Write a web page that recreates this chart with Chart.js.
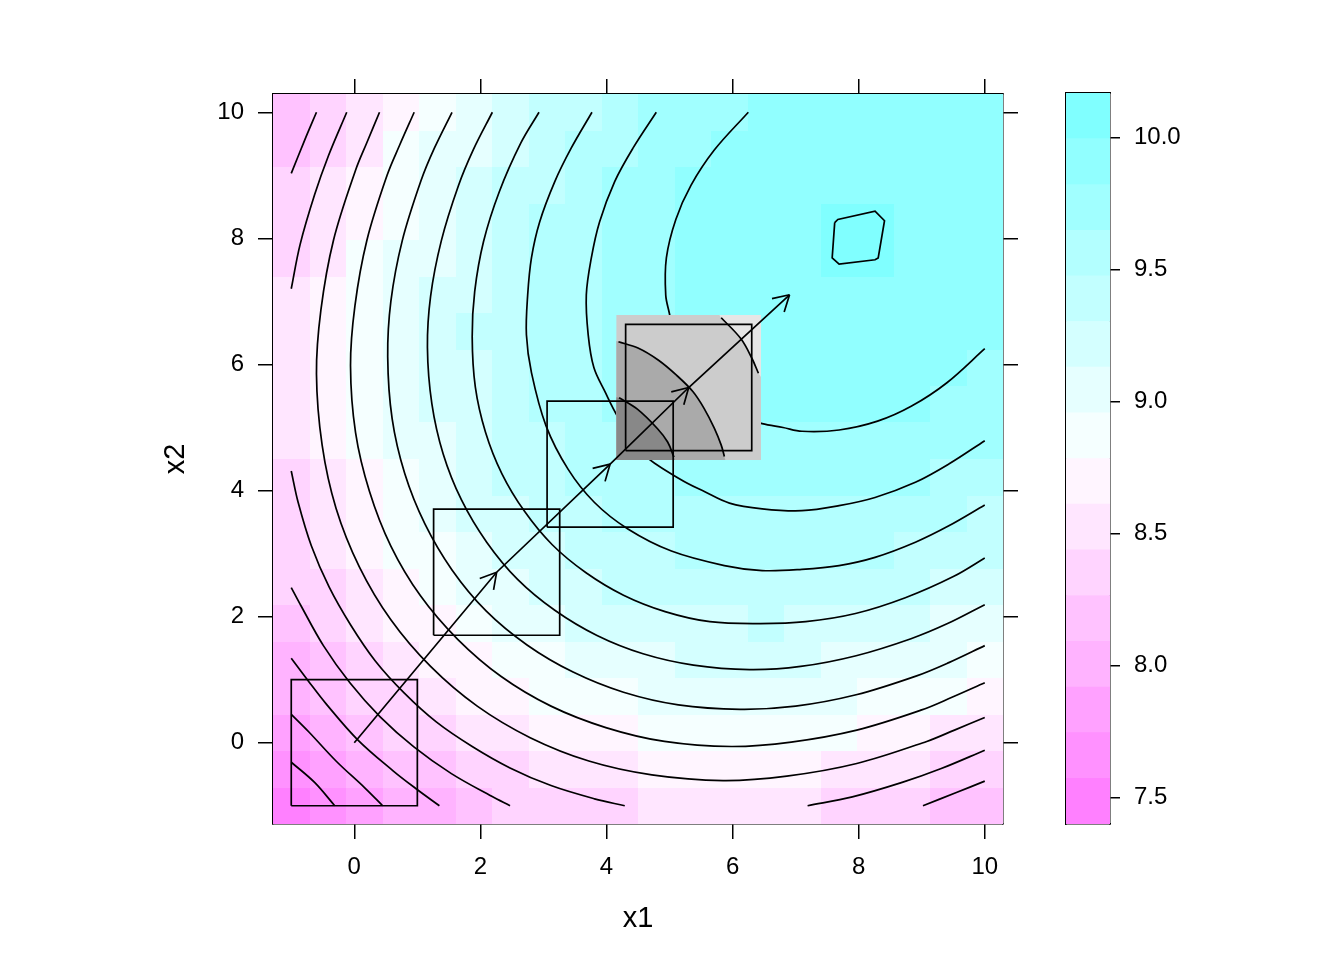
<!DOCTYPE html>
<html>
<head>
<meta charset="utf-8">
<script src="https://cdn.jsdelivr.net/npm/chart.js@4.4.1/dist/chart.umd.min.js"></script>
<style>
  html, body { margin: 0; padding: 0; background: #ffffff; }
  #wrap { position: relative; width: 1344px; height: 960px; }
  #main { position: absolute; left: 0; top: 0; }
  #key { position: absolute; left: 1040px; top: 0; }
</style>
</head>
<body>
<div id="wrap">
  <canvas id="main" width="1344" height="960"></canvas>
  <canvas id="key" width="200" height="960"></canvas>
</div>
<script>
// ---- data ----
const xLim = [-1.2895, 10.2895];
const yLim = [-1.2895, 10.2895];
const xTicks = [0, 2, 4, 6, 8, 10];
const yTicks = [0, 2, 4, 6, 8, 10];
const keyTicks = [7.5, 8.0, 8.5, 9.0, 9.5, 10.0];

// cell centres of the level plot
const gridX = [-1, -0.4211, 0.1579, 0.7368, 1.3158, 1.8947, 2.4737, 3.0526, 3.6316, 4.2105,
               4.7895, 5.3684, 5.9474, 6.5263, 7.1053, 7.6842, 8.2632, 8.8421, 9.4211, 10];
const gridY = [-1, -0.4211, 0.1579, 0.7368, 1.3158, 1.8947, 2.4737, 3.0526, 3.6316, 4.2105,
               4.7895, 5.3684, 5.9474, 6.5263, 7.1053, 7.6842, 8.2632, 8.8421, 9.4211, 10];

// breaks of the colour key (16 bands)
const zBreaks = [7.400, 7.573, 7.746, 7.919, 8.092, 8.266, 8.439, 8.612, 8.785,
                 8.958, 9.131, 9.304, 9.477, 9.650, 9.823, 9.997, 10.170];

// colour band of every cell, rows from x2 = -1 (bottom) to x2 = 10 (top)
const levelBands = [
  [0,1,2,3,3,4,5,5,5,5,6,6,6,6,6,5,5,5,4,4],
  [1,2,3,4,4,5,5,6,6,6,7,7,7,7,7,6,6,6,5,5],
  [2,3,4,5,5,6,6,7,7,7,8,8,8,8,8,8,7,7,6,6],
  [3,4,5,5,6,7,7,8,8,8,9,9,9,9,9,9,8,8,8,7],
  [3,4,5,6,7,7,8,8,9,9,9,10,10,10,10,9,9,9,9,8],
  [4,5,6,7,7,8,9,9,10,10,10,10,10,11,10,10,10,10,9,9],
  [5,5,6,7,8,9,9,10,10,11,11,11,11,11,11,11,11,11,10,10],
  [5,6,7,8,8,9,10,10,11,11,11,12,12,12,12,12,12,11,11,11],
  [5,6,7,8,9,10,10,11,11,12,12,12,12,12,12,12,12,12,12,11],
  [5,6,7,8,9,10,11,11,12,12,12,13,13,13,13,13,13,13,12,12],
  [6,7,8,9,9,10,11,11,12,12,13,13,13,13,13,13,13,13,13,13],
  [6,7,8,9,10,10,11,12,12,13,13,13,14,14,14,14,14,14,13,13],
  [6,7,8,9,10,10,11,12,12,13,13,14,14,14,14,14,14,14,14,13],
  [6,7,8,9,10,11,11,12,12,13,13,14,14,14,14,14,14,14,14,14],
  [6,7,8,9,10,10,11,12,12,13,13,14,14,14,14,14,14,14,14,14],
  [5,6,8,9,9,10,11,12,12,13,13,14,14,14,14,15,15,14,14,14],
  [5,6,7,8,9,10,11,12,12,13,13,14,14,14,14,15,15,14,14,14],
  [5,6,7,8,9,10,11,11,12,13,13,14,14,14,14,14,14,14,14,14],
  [4,5,6,8,9,9,10,11,12,12,13,13,14,14,14,14,14,14,14,14],
  [4,5,6,7,8,9,10,11,11,12,13,13,13,14,14,14,14,14,14,14]
];

// contour lines (x1, x2 pairs)
const contourLines = [
  [[-1,-0.31],[-0.63,-0.63],[-0.31,-1]],
  [[-1,0.45],[-0.72,0.17],[-0.29,-0.29],[0.17,-0.72],[0.45,-1]],
  [[-1,1.34],[-0.73,0.98],[-0.45,0.62],[0.05,0.05],[0.62,-0.45],[0.98,-0.73],[1.35,-1]],
  [[-1,2.46],[-0.85,2.18],[-0.49,1.54],[-0.07,0.95],[0.41,0.41],[0.95,-0.07],[1.54,-0.49],[2.18,-0.85],[2.47,-1]],
  [[-0.60,10],[-0.79,9.55],[-1,9.03]],
  [[10,-0.61],[9.55,-0.79],[9.02,-1]],
  [[-1,4.31],[-0.89,3.81],[-0.68,3.12],[-0.40,2.47],[-0.06,1.87],[0.33,1.30],[0.79,0.79],[1.30,0.33],[1.87,-0.06],[2.47,-0.40],[3.12,-0.68],[3.81,-0.89],[4.29,-1]],
  [[-0.12,10],[-0.41,9.31],[-0.63,8.69],[-0.86,7.90],[-1,7.20]],
  [[10,-0.12],[9.31,-0.41],[8.69,-0.63],[7.90,-0.86],[7.19,-1]],
  [[0.40,10],[0.20,9.52],[0.02,9.08],[-0.33,7.97],[-0.53,6.86],[-0.60,5.85],[-0.51,4.72],[-0.29,3.72],[0.08,2.79],[0.58,1.95],[1.21,1.21],[1.95,0.58],[2.79,0.08],[3.72,-0.29],[4.72,-0.51],[5.85,-0.60],[6.86,-0.53],[7.97,-0.33],[9.08,0.02],[9.52,0.20],[10,0.40]],
  [[0.95,10],[0.72,9.48],[0.52,9.00],[0.20,7.97],[0.01,6.93],[-0.06,5.98],[0.02,4.92],[0.24,3.99],[0.58,3.12],[1.05,2.33],[1.64,1.64],[2.33,1.05],[3.12,0.58],[3.99,0.24],[4.92,0.02],[5.98,-0.06],[6.93,0.01],[7.97,0.20],[9.00,0.52],[9.48,0.72],[10,0.95]],
  [[1.55,10],[1.27,9.43],[1.06,8.92],[0.76,7.96],[0.58,7.00],[0.53,6.12],[0.60,5.14],[0.80,4.27],[1.12,3.47],[1.55,2.74],[2.09,2.09],[2.74,1.55],[3.47,1.12],[4.27,0.80],[5.14,0.60],[6.12,0.53],[7.00,0.58],[7.96,0.76],[8.92,1.06],[9.43,1.27],[10,1.54]],
  [[2.19,10],[1.89,9.41],[1.65,8.83],[1.38,7.96],[1.21,7.08],[1.16,6.27],[1.23,5.38],[1.41,4.58],[1.70,3.85],[2.10,3.18],[2.59,2.59],[3.18,2.10],[3.85,1.70],[4.58,1.41],[5.38,1.23],[6.27,1.16],[7.08,1.21],[7.96,1.38],[8.83,1.65],[9.41,1.89],[10,2.19]],
  [[2.93,10],[2.64,9.51],[2.30,8.74],[2.05,7.95],[1.91,7.16],[1.87,6.44],[1.92,5.64],[2.08,4.93],[2.34,4.27],[2.70,3.67],[3.14,3.14],[3.67,2.70],[4.27,2.34],[4.93,2.08],[5.64,1.92],[6.44,1.89],[7.16,1.92],[7.95,2.05],[8.74,2.30],[9.51,2.64],[10,2.93]],
  [[3.77,10],[3.44,9.43],[3.18,8.90],[2.94,8.26],[2.81,7.69],[2.75,7.10],[2.73,6.47],[2.81,5.87],[3.04,5.03],[3.39,4.34],[3.81,3.81],[4.34,3.39],[5.03,3.04],[5.87,2.81],[6.47,2.73],[7.10,2.75],[7.69,2.81],[8.26,2.94],[8.90,3.18],[9.43,3.44],[10,3.77]],
  [[4.79,10],[4.42,9.43],[4.13,8.90],[3.89,8.26],[3.76,7.69],[3.68,7.10],[3.71,6.47],[3.80,5.95],[3.98,5.56],[4.18,5.17],[4.58,4.58],[5.17,4.18],[5.56,3.98],[5.95,3.80],[6.47,3.71],[7.10,3.68],[7.69,3.76],[8.26,3.89],[8.90,4.13],[9.43,4.42],[10,4.79]],
  [[6.25,10],[5.71,9.40],[5.34,8.84],[5.10,8.30],[4.95,7.69],[4.94,7.10],[5.00,6.80],[5.06,6.47],[5.18,6.10],[5.50,5.50],[6.10,5.18],[6.47,5.06],[6.80,5.00],[7.10,4.94],[7.69,4.96],[8.30,5.10],[8.84,5.34],[9.40,5.71],[10,6.25]]
];
// the small closed contour round the top
const peakContour = [[7.62,8.25],[7.67,8.30],[8.26,8.43],[8.41,8.28],[8.31,7.69],[8.26,7.66],[7.69,7.59],[7.58,7.69],[7.62,8.25]];

// the zoomed local panel (grey) over the fourth square
const localShades = ['#cccccc', '#e6e6e6', '#aaaaaa', '#888888'];
const localRegions = [
  [[4.157,4.485],[6.451,4.485],[6.451,6.783],[4.157,6.783]],
  [[5.79,6.783],[5.82,6.74],[6.13,6.41],[6.31,6.09],[6.41,5.86],[6.451,5.80],[6.451,6.783]],
  [[4.157,6.37],[4.19,6.36],[4.50,6.26],[4.82,6.07],[5.11,5.83],[5.37,5.57],[5.55,5.30],[5.71,4.99],[5.82,4.72],[5.87,4.54],[5.885,4.485],[4.157,4.485]],
  [[4.157,5.48],[4.20,5.47],[4.49,5.29],[4.81,4.98],[4.97,4.77],[5.07,4.53],[5.085,4.485],[4.157,4.485]]
];
const localLines = [
  [[4.19,6.36],[4.50,6.26],[4.82,6.07],[5.11,5.83],[5.37,5.57],[5.55,5.30],[5.71,4.99],[5.82,4.72],[5.87,4.54]],
  [[4.20,5.47],[4.49,5.29],[4.81,4.98],[4.97,4.77],[5.07,4.53]],
  [[5.82,6.74],[6.13,6.41],[6.31,6.09],[6.41,5.86]]
];

// search squares and the steepest-ascent path
const squareX = [0, 2.258, 4.058, 5.304];
const squareY = [0, 2.704, 4.419, 5.634];
const squareHalf = 1.0;
const pathX = [0, 2.258, 4.058, 5.304, 6.904];
const pathY = [0, 2.704, 4.419, 5.634, 7.105];

// ---- styles ----
const bandColours = ['#FF80FF','#FF91FF','#FFA1FF','#FFB3FF','#FFC2FF','#FFD4FF','#FFE6FF','#FFF5FF',
                     '#F5FFFF','#E6FFFF','#D4FFFF','#C2FFFF','#B3FFFF','#A1FFFF','#91FFFF','#80FFFF'];
const FONT = "'Liberation Sans', Arial, Helvetica, sans-serif";
const tickFont = { family: FONT, size: 24 };
const titleFont = { family: FONT, size: 29 };
const lineW = 1.7;

Chart.defaults.font.family = FONT;
Chart.defaults.color = '#000';

const toPts = arr => arr.map(p => ({ x: p[0], y: p[1] }));

function lineSet(pts, label, order, smooth) {
  return {
    label: label, data: toPts(pts), showLine: true, fill: false,
    tension: smooth ? 0.35 : 0,
    borderColor: '#000', borderWidth: lineW, pointRadius: 0, order: order
  };
}

const datasets = [];
contourLines.forEach((c, i) => datasets.push(lineSet(c, 'contour ' + i, 3, true)));
datasets.push(lineSet(peakContour, 'peak contour', 3, false));
datasets.push({ label: 'local panel', data: [], order: 2 });
localLines.forEach((c, i) => datasets.push(lineSet(c, 'local ' + i, 1, true)));
squareX.forEach((cx, i) => {
  const cy = squareY[i], h = squareHalf;
  datasets.push(lineSet([[cx - h, cy - h], [cx + h, cy - h], [cx + h, cy + h], [cx - h, cy + h], [cx - h, cy - h]], 'square ' + i, 0, false));
});
datasets.push(lineSet(pathX.map((v, i) => [v, pathY[i]]), 'path', 0, false));

// draws the level-plot cells, the grey local panel and the arrow heads through the scales
const levelPlot = {
  id: 'levelPlot',
  beforeDatasetsDraw(chart) {
    const { ctx, scales: { x, y } } = chart;
    const hx = (gridX[1] - gridX[0]) / 2, hy = (gridY[1] - gridY[0]) / 2;
    ctx.save();
    levelBands.forEach((row, j) => {
      row.forEach((b, i) => {
        const x0 = Math.round(x.getPixelForValue(gridX[i] - hx));
        const x1 = Math.round(x.getPixelForValue(gridX[i] + hx));
        const y0 = Math.round(y.getPixelForValue(gridY[j] + hy));
        const y1 = Math.round(y.getPixelForValue(gridY[j] - hy));
        ctx.fillStyle = bandColours[b];
        ctx.fillRect(x0, y0, x1 - x0, y1 - y0);
      });
    });
    ctx.restore();
  },
  afterDatasetDraw(chart, args) {
    if (chart.data.datasets[args.index].label !== 'local panel') return;
    const { ctx, scales: { x, y } } = chart;
    ctx.save();
    localRegions.forEach((poly, k) => {
      ctx.beginPath();
      poly.forEach((p, n) => {
        const px = x.getPixelForValue(p[0]), py = y.getPixelForValue(p[1]);
        if (n === 0) ctx.moveTo(px, py); else ctx.lineTo(px, py);
      });
      ctx.closePath();
      ctx.fillStyle = localShades[k];
      ctx.fill();
    });
    ctx.restore();
  },
  afterDatasetsDraw(chart) {
    const { ctx, scales: { x, y } } = chart;
    ctx.save();
    ctx.strokeStyle = '#000';
    ctx.lineWidth = lineW;
    ctx.beginPath();
    for (let k = 1; k < pathX.length; k++) {
      const xa = x.getPixelForValue(pathX[k - 1]), ya = y.getPixelForValue(pathY[k - 1]);
      const xb = x.getPixelForValue(pathX[k]), yb = y.getPixelForValue(pathY[k]);
      const ang = Math.atan2(yb - ya, xb - xa);
      [-1, 1].forEach(s => {
        const a = ang + Math.PI + s * Math.PI / 6;
        ctx.moveTo(xb + 18 * Math.cos(a), yb + 18 * Math.sin(a));
        ctx.lineTo(xb, yb);
      });
    }
    ctx.stroke();
    ctx.restore();
  }
};

function axis(pos, lim, ticks, size, showLabels, title) {
  const horizontal = pos === 'bottom' || pos === 'top';
  const cfg = {
    type: 'linear', position: pos, axis: horizontal ? 'x' : 'y',
    min: lim[0], max: lim[1],
    afterBuildTicks: s => { s.ticks = ticks.map(v => ({ value: v })); },
    afterFit: s => { if (horizontal) s.height = size; else s.width = size; },
    ticks: {
      font: tickFont, color: showLabels ? '#000' : 'rgba(0,0,0,0)',
      padding: 14, maxRotation: 0, autoSkip: false,
      callback: v => String(v)
    },
    grid: { drawOnChartArea: false, drawTicks: true, tickLength: 15, color: '#000', lineWidth: 1.5 },
    border: { display: true, color: '#000', width: 1.5 }
  };
  if (title) cfg.title = title;
  return cfg;
}

new Chart(document.getElementById('main'), {
  type: 'scatter',
  data: { datasets: datasets },
  plugins: [levelPlot],
  options: {
    responsive: false, animation: false,
    layout: { padding: 0 },
    plugins: { legend: { display: false }, tooltip: { enabled: false } },
    scales: {
      x: axis('bottom', xLim, xTicks, 136, true,
        { display: true, text: 'x1', font: titleFont, color: '#000', padding: { top: 0, bottom: 24 } }),
      xTop: axis('top', xLim, xTicks, 94, false),
      y: axis('left', yLim, yTicks, 273, true,
        { display: true, text: 'x2', font: titleFont, color: '#000', padding: { top: 159, bottom: 0 } }),
      yRight: axis('right', yLim, yTicks, 341, false)
    }
  }
});

// ---- colour key ----
const keySets = bandColours.map((c, i) => ({
  label: 'band ' + i, data: [[zBreaks[i], zBreaks[i + 1]]],
  backgroundColor: c, borderWidth: 0, barPercentage: 1, categoryPercentage: 1
}));

new Chart(document.getElementById('key'), {
  type: 'bar',
  data: { labels: ['key'], datasets: keySets },
  options: {
    responsive: false, animation: false,
    layout: { padding: 0 },
    plugins: { legend: { display: false }, tooltip: { enabled: false } },
    scales: {
      x: { type: 'category', position: 'bottom', stacked: true,
           afterFit: s => { s.height = 136; },
           ticks: { display: false }, grid: { display: false },
           border: { display: true, color: '#000', width: 1.5 } },
      xTop: { type: 'category', axis: 'x', position: 'top', labels: ['key'],
           afterFit: s => { s.height = 93; },
           ticks: { display: false }, grid: { display: false },
           border: { display: true, color: '#000', width: 1.5 } },
      y: { type: 'linear', position: 'left', min: zBreaks[0], max: zBreaks[16],
           afterFit: s => { s.width = 26; },
           ticks: { display: false }, grid: { display: false },
           border: { display: true, color: '#000', width: 1.5 } },
      yKey: { type: 'linear', axis: 'y', position: 'right', min: zBreaks[0], max: zBreaks[16],
           afterBuildTicks: s => { s.ticks = keyTicks.map(v => ({ value: v })); },
           afterFit: s => { s.width = 130; },
           ticks: { font: tickFont, color: '#000', padding: 14, callback: v => Number(v).toFixed(1) },
           grid: { drawOnChartArea: false, drawTicks: true, tickLength: 10, color: '#000', lineWidth: 1.5 },
           border: { display: true, color: '#000', width: 1.5 } }
    }
  }
});
</script>
</body>
</html>
